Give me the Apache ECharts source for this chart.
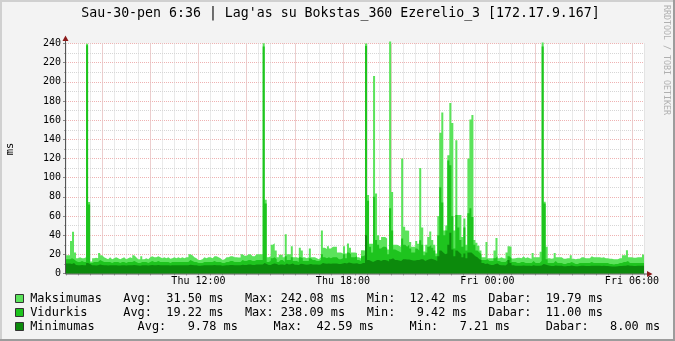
<!DOCTYPE html>
<html><head><meta charset="utf-8">
<script src="https://cdn.jsdelivr.net/npm/echarts@6/dist/echarts.min.js"></script>
<style>html,body{margin:0;padding:0;background:#f3f3f3}#c{width:675px;height:341px}</style>
</head><body><div id="c"></div>
<script>
// time in minutes from Thu 00:00; 5-minute steps
const startMin = 390;
const endMin = 1830;
const stepMin = 5;

const maxV = [
19,19,34,43.5,22,16,17,16,16,17,
239.8,74.5,12.42,16,16.5,16,21.5,19,17,16,
15,17,15,16,17,16,15,16,17,15,
16,17,16,19,17,15,15,18,15,16,
15,17,18,17,17,18,17,16,17,16,
17,15.5,16,17,16,17,16,17,16,17,
17,20,19,17,16,14,14,15,17,16,
17,17,16,18,18,17,16,14,15,17,
17,18,18,17,17,16.7,16.7,20,18.4,18.4,
20,20,18,18,20,20,20,20,240.2,77,
17,18,30,31.5,24,17,19.6,19.6,17,41,
20,20,28.5,17,17,16,27,24,17,16,
17,26,17,17,16,15,17,45,27,25.5,
28.5,26,28,28,28,22,22,21,28.5,21,
31.3,27,22,22,21.5,17,15.6,24.3,24,240,
82,31,31,206,83.5,40,35,38,38,36.5,
25,242.08,85,30,30,29,28,120,48.7,45,
44.5,33,28,28,34,31,110,48,23,30,
38,43.8,35,30,21,60,147,168,45,50,
123.5,178,157,45,139,61,61,38,57.4,30,
120,160.8,165.3,35,32,29,24,17,17,33,
16,16,16,24,37,16,17,16,15.6,22,
28.5,28,15.6,16,16.5,16.5,16,18,16,17,
16,15.5,21.5,17,17,17,22.6,241,74.8,27.8,
16,15.5,16,21.5,17,17,17,15.5,15.5,16,
16,19,15.5,15,15.5,15.5,17,17,16,16,
16,18,17,17,17,17,16.5,17,16,16,
15.5,15.5,15,15,15,16,16,19,19,24.3,
17,17,16.5,16.5,17,17,17,19.79
];

const avgV = [
15,15,16,15,13,12,12,13,12,12,
238.09,72,11,12,12,12,14,13,12,12,
12,12,11,12,12,12,11,12,12,11,
12,12,12,13,12,11,11,12,12,12,
11,12,13,12,12,13,12,12,12,12,
12,11,12,12,12,12,12,12,12,12,
12,14,13,12,12,11,11,11,12,12,
12,12,12,13,12,12,12,11,11,12,
12,13,13,12,12,12,12,14,13,13,
14,14,13,13,14,14,14,14,236.8,73,
12,13,16,17,15,12,14,14,12,18,
14,14,17,13,13,12,17,16,13,13,
13,16,14,14,13,13,14,20,17,16,
17,16,17,17,17,15,15,16,20,16,
22,20,17,17,18,14,13,18,19,237.5,
76,28,22,80,35,30,26,28,28,27,
20,68,45,25,24,23,22,36.5,30,28,
30,26,22,22,26,24,34.8,30,19,22,
28,30,27,24,18,40,90,74,40,45,
118,113,60,26,61,48,35,28,48,24,
63,68,59,30,24,22,20,14,14,15,
13,13,13,16,18,13,12,12,12,14,
18,16,12,12,11,11,12,12,11,11,
11,11,13,11,11,11,13,237,73,15,
11,11,11,13,11,11,11,10,10,11,
11,12,11,10,10,11,11,11,11,11,
11,12,11,11,11,11,11,11,11,11,
10,10,9.42,10,10,11,11,12,12,13,
11,11,11,11,11,11,11,11
];

const minV = [
10.4,10.4,10,11,9,8.5,8.6,9,8.5,8.7,
11,10,8.5,8.6,8.4,8.6,9.5,9,8.5,8.6,
8.4,8.6,8.5,8.7,8.5,8.4,8.3,8.6,8.5,8.4,
8.5,8.6,8.6,9,8.5,8.3,8.2,8.6,8.5,8.5,
8.3,8.5,8.8,8.6,8.6,8.9,8.6,8.5,8.6,8.5,
8.6,8.3,8.5,8.6,8.5,8.6,8.5,8.6,8.5,8.6,
8.6,9.2,9,8.6,8.5,8.2,8.2,8.3,8.6,8.5,
8.6,8.6,8.5,8.8,8.6,8.6,8.5,8.2,8.3,8.6,
8.7,8.9,8.9,8.7,8.7,8.6,8.6,9.2,9,9,
9.3,9.3,9,9,9.3,9.3,9.4,9.4,11,10,
8.8,9,10,10.4,9.8,8.8,9.5,9.5,9,10.5,
9.5,9.6,10.4,9.2,9.2,9,10.2,10,9.3,9.2,
9.3,10,9.5,9.5,9.3,9.2,9.5,11,10.4,10.2,
10.4,10.2,10.4,10.4,10.4,10,10,10.4,11,10.4,
11.5,11,10.5,10.5,10.8,10,9.8,11,11,40,
14,13,12,13,14,14,13,14,14,13.5,
12.5,15,16,14,14,13.5,13,15,15,14.5,
14.5,14,13.5,13.5,14,14,15,15,13,14,
15,15.5,15,14,13,18,24,22,20,21,
30,42.59,25,18,24,22,20,17,21,16,
22,22,20,18,17,15,14,11,10,10.5,
9.5,9,9,10,10.5,9,8.5,8.5,8.3,10,
14,11,8.5,8.2,8,8,8.2,8.4,8,8,
8,7.8,8.5,8,8,8,8.4,10,9.5,8.6,
8,7.8,7.8,8.4,8,8,8,7.6,7.6,7.8,
7.8,8.3,7.8,7.5,7.5,7.8,8,8,7.9,7.9,
7.8,8.2,8,8,8,8,7.9,8,7.8,7.8,
7.5,7.4,7.21,7.4,7.5,7.8,7.8,8.2,8.2,8.5,
8,8,7.9,7.9,8,8,8,8.00
];

const seriesNames = ['Maksimumas','Vidurkis','Minimumas'];
const seriesColors = ['#5be35b','#1ec41e','#0c8a0c'];
const xTickTimes = [720,1080,1440,1800];
const xTickLabels = ['Thu 12:00','Thu 18:00','Fri 00:00','Fri 06:00'];
const xMajorTimes = [480,600,720,840,960,1080,1200,1320,1440,1560,1680,1800];
const titleText = "Sau-30-pen 6:36 | Lag'as su Bokstas_360 Ezerelio_3 [172.17.9.167]";
const legendLines = [
  "Maksimumas   Avg:  31.50 ms   Max: 242.08 ms   Min:  12.42 ms   Dabar:  19.79 ms",
  "Vidurkis     Avg:  19.22 ms   Max: 238.09 ms   Min:   9.42 ms   Dabar:  11.00 ms",
  "Minimumas      Avg:   9.78 ms     Max:  42.59 ms     Min:   7.21 ms     Dabar:   8.00 ms"
];
const yUnit = 'ms';
const watermark = 'RRDTOOL / TOBI OETIKER';

const MONO = '"DejaVu Sans Mono", monospace';

function toSeries(vals){
  const d = vals.map((v,i)=>[startMin+i*stepMin, v]);
  d.push([endMin, vals[vals.length-1]]);
  return d;
}

const GL = 66, GR = 644, GT = 43.5, GB = 273.5;
const GRID_GRAY = '#d6d6d6', GRID_RED = '#efb2b2';

const chart = echarts.init(document.getElementById('c'), null, {renderer:'canvas'});

const graphics = [
  {type:'rect', shape:{x:0,y:0,width:675,height:2}, style:{fill:'#d0d0d0'}, z:100, silent:true},
  {type:'rect', shape:{x:0,y:0,width:2,height:341}, style:{fill:'#d0d0d0'}, z:100, silent:true},
  {type:'rect', shape:{x:673,y:0,width:2,height:341}, style:{fill:'#9c9c9c'}, z:100, silent:true},
  {type:'rect', shape:{x:0,y:339,width:675,height:2}, style:{fill:'#9c9c9c'}, z:100, silent:true},
  {type:'line', shape:{x1:GL-0.5,y1:GB+0.5,x2:649,y2:GB+0.5}, style:{stroke:'#555',lineWidth:1}, z:100, silent:true},
  {type:'line', shape:{x1:GL-0.5,y1:GB+0.5,x2:GL-0.5,y2:38}, style:{stroke:'#555',lineWidth:1}, z:100, silent:true},
  {type:'polygon', shape:{points:[[647,GB-2.5],[652.5,GB+0.5],[647,GB+3.5]]}, style:{fill:'#8b1a1a'}, z:101, silent:true},
  {type:'polygon', shape:{points:[[GL-3.5,41],[GL-0.5,35.5],[GL+2.5,41]]}, style:{fill:'#8b1a1a'}, z:101, silent:true},
  {type:'text', x:340.5, y:14, style:{text:titleText, font:'13.25px '+MONO, fill:'#000', align:'center', verticalAlign:'middle'}, z:100, silent:true},
  {type:'text', x:10, y:149, rotation:Math.PI/2, style:{text:yUnit, font:'10.5px '+MONO, fill:'#000', align:'center', verticalAlign:'middle'}, z:100, silent:true},
  {type:'text', x:666, y:60, rotation:-Math.PI/2, style:{text:watermark, font:'8.3px '+MONO, fill:'#b0b0b0', align:'center', verticalAlign:'middle'}, z:100, silent:true}
];
const legendY = [299, 313, 327];
legendLines.forEach((line, k)=>{
  graphics.push({type:'rect', shape:{x:15.5,y:legendY[k]-4.5,width:8,height:8}, style:{fill:seriesColors[k], stroke:'#333', lineWidth:1}, z:100, silent:true});
  graphics.push({type:'text', x:30.2, y:legendY[k], style:{text:line, font:'11.9px '+MONO, fill:'#000', align:'left', verticalAlign:'middle'}, z:100, silent:true});
});

const dotted = [1,1];
const option = {
  backgroundColor:'#f3f3f3',
  animation:false,
  grid:{left:GL, right:675-GR, top:GT, bottom:341-GB, show:true, backgroundColor:'#ffffff', borderWidth:0},
  xAxis:{
    type:'value', min:startMin, max:endMin, interval:30,
    axisLine:{show:false},
    axisTick:{show:true, length:2, lineStyle:{color:'#aaa'}},
    splitLine:{show:true, lineStyle:{color:GRID_GRAY, type:dotted, width:1}},
    axisLabel:{show:true, margin:3, fontFamily:'DejaVu Sans Mono', fontSize:10, color:'#000',
      showMinLabel:true, showMaxLabel:true,
      formatter:(v)=>{ const k = xTickTimes.indexOf(Math.round(v)); return k>=0 ? xTickLabels[k] : ''; }}
  },
  yAxis:[
    {type:'value', min:0, max:240, interval:10, position:'left',
     axisLine:{show:false}, axisLabel:{show:false},
     axisTick:{show:true, length:2, lineStyle:{color:'#aaa'}},
     splitLine:{show:true, lineStyle:{color:GRID_GRAY, type:dotted, width:1}}},
    {type:'value', min:0, max:240, interval:20, position:'left',
     axisLine:{show:false},
     axisTick:{show:true, length:3, lineStyle:{color:'#888'}},
     axisLabel:{show:true, margin:5, fontFamily:'DejaVu Sans Mono', fontSize:10, color:'#000'},
     splitLine:{show:true, lineStyle:{color:GRID_RED, type:dotted, width:1}}}
  ],
  series:[
    {name:seriesNames[0], type:'line', step:'end', data:toSeries(maxV), symbol:'none', clip:false, silent:true,
     lineStyle:{width:0}, areaStyle:{color:seriesColors[0], opacity:1}, z:2,
     markLine:{silent:true, z:1, symbol:['none','none'], label:{show:false}, animation:false,
       lineStyle:{color:GRID_RED, type:dotted, width:1},
       data:xMajorTimes.map(t=>({xAxis:t}))}},
    {name:seriesNames[1], type:'line', step:'end', data:toSeries(avgV), symbol:'none', clip:false, silent:true,
     lineStyle:{width:0}, areaStyle:{color:seriesColors[1], opacity:1}, z:3},
    {name:seriesNames[2], type:'line', step:'end', data:toSeries(minV), symbol:'none', clip:false, silent:true,
     lineStyle:{width:0}, areaStyle:{color:seriesColors[2], opacity:1}, z:4}
  ],
  graphic:graphics
};
chart.setOption(option);
</script></body></html>
